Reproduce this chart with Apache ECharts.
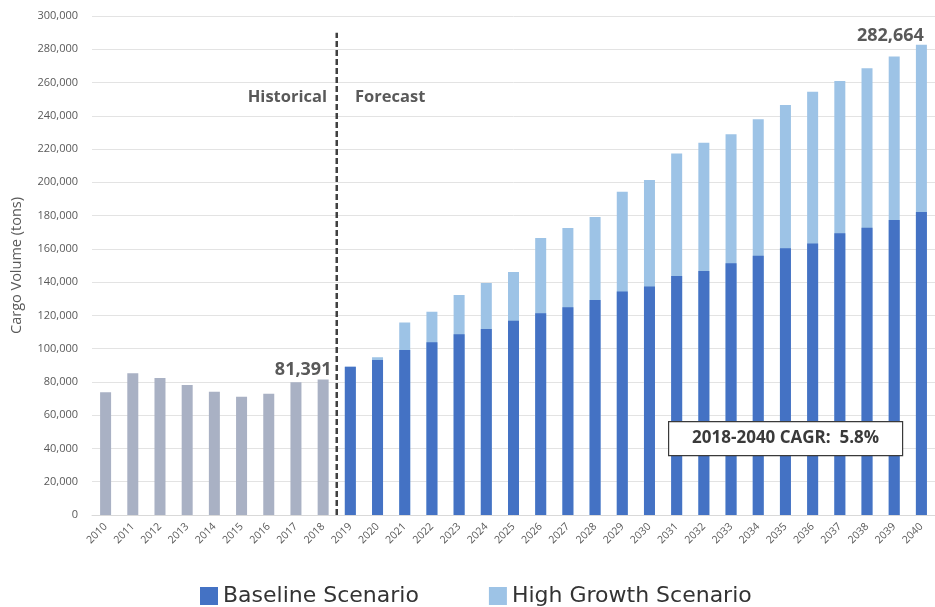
<!DOCTYPE html>
<html><head><meta charset="utf-8">
<script src="https://cdn.jsdelivr.net/npm/echarts@6/dist/echarts.min.js"></script>
<style>html,body{margin:0;padding:0;background:#fff}#c{width:935px;height:607px}</style>
</head><body><div id="c"></div>
<script>
const years = ['2010','2011','2012','2013','2014','2015','2016','2017','2018','2019','2020','2021','2022','2023','2024','2025','2026','2027','2028','2029','2030','2031','2032','2033','2034','2035','2036','2037','2038','2039','2040'];
const historical = [73800,85200,82400,78200,74100,71100,72900,79800,81391,'-','-','-','-','-','-','-','-','-','-','-','-','-','-','-','-','-','-','-','-','-','-'];
const baseline = ['-','-','-','-','-','-','-','-','-',89200,93200,99200,103800,108600,111800,116800,121300,124900,129300,134300,137300,143700,146700,151300,155900,160300,163300,169400,172700,177400,182200];
const highGrowth = ['-','-','-','-','-','-','-','-','-',89200,94800,115800,122200,132300,139500,146100,166500,172500,179200,194400,201400,217400,223800,228900,237900,246500,254500,260900,268600,275600,282664];
const dividerLine = [[8.5,0],[8.5,290000]];
const yTicks = {min:0, max:300000, interval:20000};

const chart = echarts.init(document.getElementById('c'));
const txt = '#595959';
chart.setOption({
  animation:false,
  grid:{left:92,right:-8,top:16,bottom:92,containLabel:false},
  legend:{
    data:['Baseline Scenario','High Growth Scenario'],
    top:580,left:195,itemWidth:18,itemHeight:18,itemGap:70,icon:'rect',
    textStyle:{fontSize:22,color:'#333',fontFamily:'DejaVu Sans'}
  },
  xAxis:[{
    type:'category',data:years,
    axisLine:{lineStyle:{color:'#d9d9d9'}},axisTick:{show:false},
    axisLabel:{rotate:45,fontSize:10.5,color:txt,interval:0,margin:10,fontFamily:'Open Sans'}
  },{
    type:'value',min:-0.5,max:30.5,show:false
  }],
  yAxis:{
    type:'value',min:yTicks.min,max:yTicks.max,interval:yTicks.interval,
    name:'Cargo Volume (tons)',nameLocation:'middle',nameGap:68,nameRotate:90,
    nameTextStyle:{fontSize:14.5,color:txt,fontFamily:'Open Sans'},
    axisLine:{show:false},axisTick:{show:false},
    axisLabel:{fontSize:11,color:txt,margin:14,fontFamily:'Open Sans',
      formatter:v=>v.toLocaleString('en-US')},
    splitLine:{lineStyle:{color:'#e3e3e3'}}
  },
  series:[
    {name:'High Growth Scenario',type:'bar',data:highGrowth,barWidth:11,barGap:'-100%',
     itemStyle:{color:'#9dc3e6'},
     label:{show:true,position:'top',color:txt,fontWeight:'bold',fontSize:18,fontFamily:'Open Sans',offset:[-31,5],
       formatter:p=>p.dataIndex===30?p.value.toLocaleString('en-US'):''}},
    {name:'Baseline Scenario',type:'bar',data:baseline,barWidth:11,barGap:'-100%',
     itemStyle:{color:'#4472c4'}},
    {name:'Historical',type:'bar',data:historical,barWidth:11,barGap:'-100%',
     itemStyle:{color:'#a9b1c4'},
     label:{show:true,position:'top',color:txt,fontWeight:'bold',fontSize:18,fontFamily:'Open Sans',offset:[-20,4],
       formatter:p=>p.dataIndex===8?p.value.toLocaleString('en-US'):''}},
    {name:'divider',type:'line',xAxisIndex:1,data:dividerLine,symbol:'none',silent:true,
     lineStyle:{color:'#404040',width:2.5,type:[6,3]}}
  ],
  graphic:[
    {type:'text',right:935-327,top:89,z:100,style:{text:'Historical',fill:txt,fontSize:16.5,fontWeight:'bold',fontFamily:'Open Sans'}},
    {type:'text',left:355,top:89,z:100,style:{text:'Forecast',fill:txt,fontSize:16.5,fontWeight:'bold',fontFamily:'Open Sans'}},
    {type:'group',left:668,top:421,z:100,children:[
      {type:'rect',z:100,shape:{x:0,y:0,width:234,height:34},style:{fill:'#fff',stroke:'#3a3a3a',lineWidth:1.2}},
      {type:'text',z:101,x:117,y:17,style:{text:'2018-2040 CAGR:  5.8%',fill:'#3a3a3a',fontSize:17,fontWeight:'bold',fontFamily:'Open Sans',align:'center',verticalAlign:'middle'}}
    ]}
  ]
});
</script></body></html>
